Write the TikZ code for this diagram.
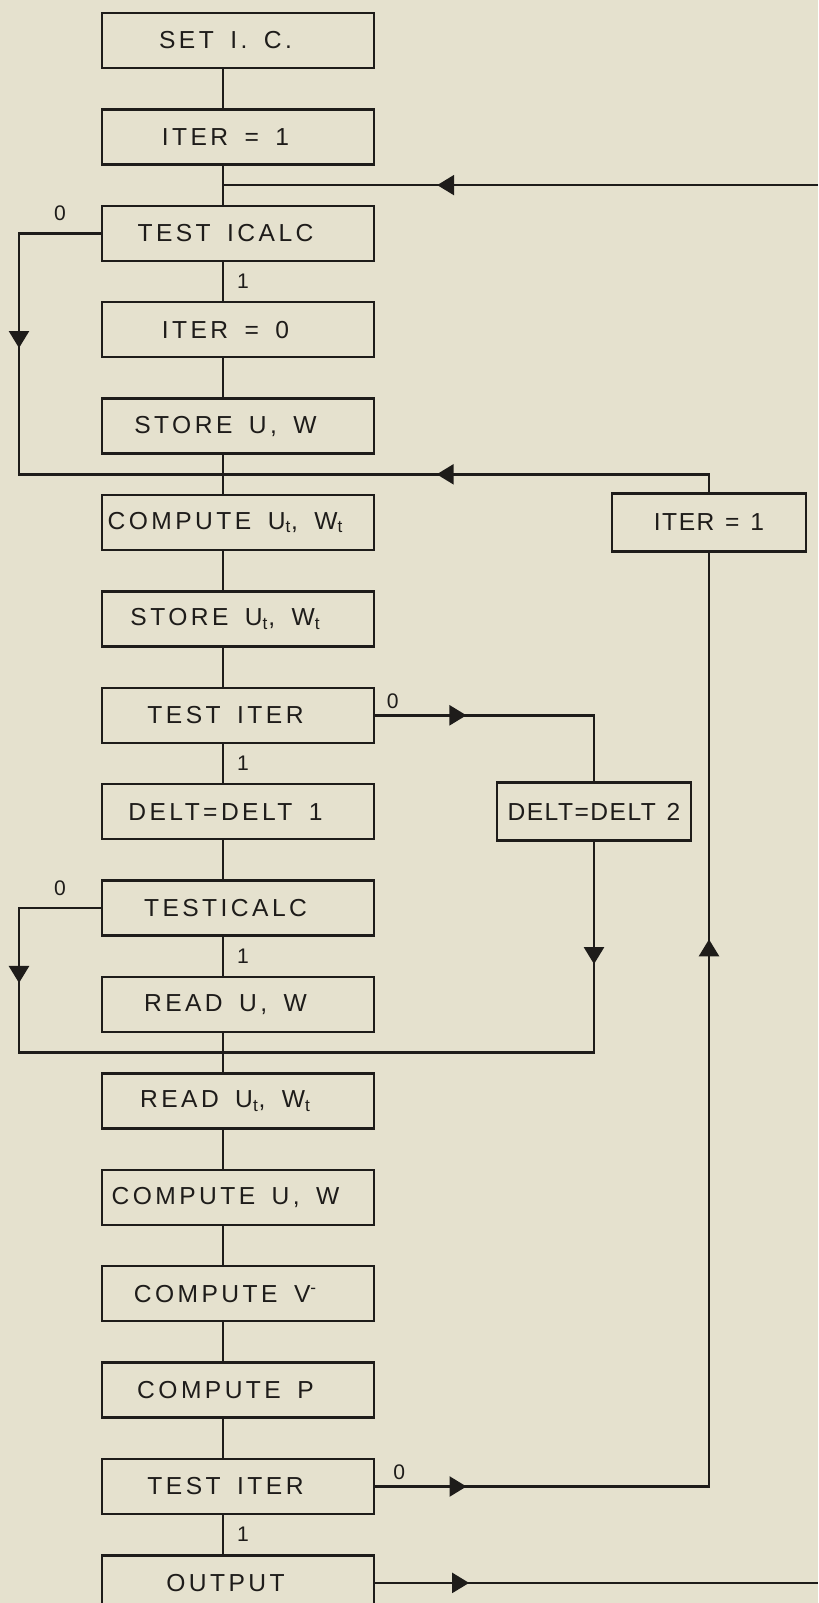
\documentclass[tikz,border=0pt]{standalone}
\usepackage{fontspec}
\setmainfont{Liberation Sans}[LetterSpace=14, WordSpace=1.6]
\newfontfamily\sidefont{Liberation Sans}[LetterSpace=6, WordSpace=1.3]
\usetikzlibrary{calc,decorations.markings,arrows.meta,positioning}
\definecolor{paper}{RGB}{229,225,206}
\definecolor{ink}{RGB}{30,28,26}

\begin{document}
\begin{tikzpicture}
    [>={Triangle[length=0.34cm, width=0.4cm]}, line width=1.4pt, color=ink, node distance=1.928cm,
    midarrow/.style={postaction={decorate}, decoration={markings, mark=at position #1 with {\arrow{>}}}},
    twoarrows/.style 2 args={postaction={decorate}, decoration={markings,
    mark=at position #1 with {\arrow{>}}, mark=at position #2 with {\arrow{>}}}}]
    % Define styles for blocks and branch labels
    \tikzstyle{block} = [draw, rectangle, minimum height=1.1cm, minimum width=5.44cm, inner xsep=1pt,
    font=\fontsize{14}{16}\selectfont, execute at end node={\hspace*{0.5cm}}]
    \tikzstyle{sideblock} = [draw, rectangle, minimum height=1.16cm, minimum width=3.88cm, inner xsep=0pt,
    font=\sidefont\fontsize{14}{16}\selectfont]
    \tikzstyle{branch} = [font=\fontsize{12}{14}\selectfont]

    % Paper
    \path[use as bounding box, fill=paper] (0,0) rectangle (16.36,-32.06);

    % Nodes placement
    \node [block] (setic) at (4.76,-0.81) {SET I. C.};
    \node [block, below of=setic] (iterone) {ITER = 1};
    \node [block, below of=iterone] (testicalc) {TEST ICALC};
    \node [block, below of=testicalc] (iterzero) {ITER = 0};
    \node [block, below of=iterzero] (storeuw) {STORE U, W};
    \node [block, below of=storeuw] (computet) {COMPUTE U\textsubscript{t}, W\textsubscript{t}};
    \node [block, below of=computet] (storet) {STORE U\textsubscript{t}, W\textsubscript{t}};
    \node [block, below of=storet] (testiter) {TEST ITER};
    \node [block, below of=testiter] (deltone) {DELT=DELT 1};
    \node [block, below of=deltone] (retest) {TESTICALC};
    \node [block, below of=retest] (readuw) {READ U, W};
    \node [block, below of=readuw] (readt) {READ U\textsubscript{t}, W\textsubscript{t}};
    \node [block, below of=readt] (computeuw) {COMPUTE U, W};
    \node [block, below of=computeuw] (computev) {COMPUTE V\textsuperscript{-}};
    \node [block, below of=computev] (computep) {COMPUTE P};
    \node [block, below of=computep] (finaltest) {TEST ITER};
    \node [block, below of=finaltest] (output) {OUTPUT};
    \node [sideblock, right of=computet, node distance=9.42cm] (iterback) {ITER = 1};
    \node [sideblock, right of=deltone, node distance=7.12cm] (delttwo) {DELT=DELT 2};

    % Spine, rails and junctions
    \coordinate (spine) at (4.46,0);
    \coordinate (leftrail) at (0.38,0);
    \coordinate (rightedge) at (16.36,0);
    \coordinate (jtop) at ($(iterone.south)!0.5!(testicalc.north)$);
    \coordinate (jmid) at ($(storeuw.south)!0.5!(computet.north)$);
    \coordinate (jlow) at ($(readuw.south)!0.5!(readt.north)$);

    % Draw edges
    \draw (setic.south -| spine) -- (iterone.north -| spine);
    \draw (iterone.south -| spine) -- (testicalc.north -| spine);
    \draw (testicalc.south -| spine) -- node[midway, right, branch, xshift=4pt] {1} (iterzero.north -| spine);
    \draw (iterzero.south -| spine) -- (storeuw.north -| spine);
    \draw (storeuw.south -| spine) -- (computet.north -| spine);
    \draw (computet.south -| spine) -- (storet.north -| spine);
    \draw (storet.south -| spine) -- (testiter.north -| spine);
    \draw (testiter.south -| spine) -- node[midway, right, branch, xshift=4pt] {1} (deltone.north -| spine);
    \draw (deltone.south -| spine) -- (retest.north -| spine);
    \draw (retest.south -| spine) -- node[midway, right, branch, xshift=4pt] {1} (readuw.north -| spine);
    \draw (readuw.south -| spine) -- (readt.north -| spine);
    \draw (readt.south -| spine) -- (computeuw.north -| spine);
    \draw (computeuw.south -| spine) -- (computev.north -| spine);
    \draw (computev.south -| spine) -- (computep.north -| spine);
    \draw (computep.south -| spine) -- (finaltest.north -| spine);
    \draw (finaltest.south -| spine) -- node[midway, right, branch, xshift=4pt] {1} (output.north -| spine);

    % Loops back on the left
    \draw[midarrow=0.373] (testicalc.west) -| node[pos=0.25, above, branch, yshift=3pt] {0} (jmid -| leftrail) -- (jmid -| spine);
    \draw[midarrow=0.364] (retest.west) -| node[pos=0.25, above, branch, yshift=3pt] {0} (jlow -| leftrail) -- (jlow -| spine);

    % Branches on the right
    \draw[midarrow=0.64] (jtop -| rightedge) -- (jtop -| spine);
    \draw[midarrow=0.576] (iterback.north) |- (jmid -| spine);
    \draw[midarrow=0.32] (testiter.east) -| node[pos=0.04, above, branch] {0} (delttwo.north);
    \draw[midarrow=0.21] (delttwo.south) |- (jlow -| spine);
    \draw[twoarrows={0.072}{0.695}] (finaltest.east) -| node[pos=0.036, above, branch] {0} (iterback.south);
    \draw[midarrow=0.212] (output.east) -- (output.east -| rightedge);
\end{tikzpicture}
\end{document}
